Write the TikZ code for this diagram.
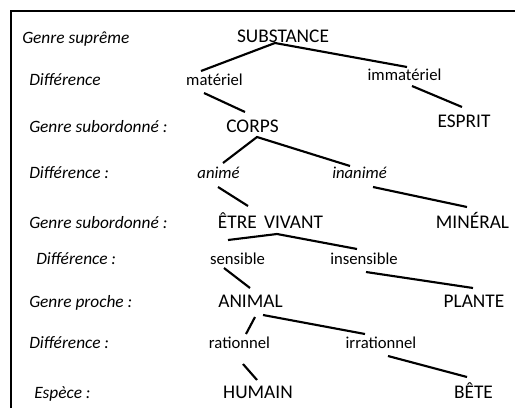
\documentclass[tikz,border=0pt]{standalone}
\usepackage{fontspec}
\setmainfont{Carlito}
\usetikzlibrary{calc}
\begin{document}
\begin{tikzpicture}[x=0.75pt,y=-0.75pt,
  lab/.style={anchor=base west,inner sep=0pt,font=\fontsize{13}{15}\selectfont\itshape},
  capt/.style={anchor=base,inner sep=0pt,font=\fontsize{14.5}{16}\selectfont},
  dif/.style={anchor=base,inner sep=0pt,font=\fontsize{12.5}{14}\selectfont},
  difit/.style={anchor=base,inner sep=0pt,font=\fontsize{12.5}{14}\selectfont\itshape},
  link/.style={line width=1.6pt},
  framel/.style={line width=1.9pt}]
\useasboundingbox (0,0) rectangle (515,408);
\draw[framel] (11,408) -- (11,11) -- (515,11);

% left labels
\node[lab] (l1) at (22,43) {Genre suprême};
\node[lab] (l2) at (29,85) {Différence};
\node[lab] (l3) at (29,132) {Genre subordonné :};
\node[lab] (l4) at (29,178) {Différence :};
\node[lab] (l5) at (29,228) {Genre subordonné :};
\node[lab] (l6) at (36,264) {Différence :};
\node[lab] (l7) at (29,307) {Genre proche :};
\node[lab] (l8) at (29,348) {Différence :};
\node[lab] (l9) at (34,398) {Espèce :};

% tree nodes
\node[capt] (sub) at (283,42) {SUBSTANCE};
\node[dif] (mat) at (214.5,85) {matériel};
\node[dif] (imm) at (404.5,80) {immatériel};
\node[capt] (corps) at (252.5,132) {CORPS};
\node[capt] (esprit) at (464,127) {ESPRIT};
\node[difit] (anime) at (218.5,178) {animé};
\node[difit] (inan) at (359.5,178) {inanimé};
\node[capt] (etre) at (270.5,228) {ÊTRE\hspace{5.5pt}VIVANT};
\node[capt] (min) at (472.5,228) {MINÉRAL};
\node[dif] (sens) at (237.5,264) {sensible};
\node[dif] (insens) at (364,264) {insensible};
\node[capt] (animal) at (250.5,307) {ANIMAL};
\node[capt] (plante) at (474,307) {PLANTE};
\node[dif] (rat) at (239.5,348) {rationnel};
\node[dif] (irrat) at (381,348) {irrationnel};
\node[capt] (hum) at (258,398) {HUMAIN};
\node[capt] (bete) at (473.5,398) {BÊTE};

% connectors
\draw[link] ($(mat.base)+(-13.5,-14)$) -- ($(sub.base)+(-8,1)$) -- ($(imm.base)+(2.5,-13)$);
\draw[link] ($(mat.base)+(-10.5,8)$) -- ($(corps.base)+(-7.5,-20)$);
\draw[link] ($(imm.base)+(7.5,6)$) -- ($(esprit.base)+(-2,-20)$);
\draw[link] ($(anime.base)+(4.5,-15)$) -- ($(corps.base)+(4.5,5)$) -- ($(inan.base)+(-9.5,-12)$);
\draw[link] ($(anime.base)+(-0.5,9)$) -- ($(etre.base)+(-22.5,-22)$);
\draw[link] ($(inan.base)+(13.5,9)$) -- ($(min.base)+(-5.5,-21)$);
\draw[link] ($(sens.base)+(-9.5,-24)$) -- ($(etre.base)+(6.5,6)$) -- ($(insens.base)+(-7,-15)$);
\draw[link] ($(sens.base)+(-13.5,4)$) -- ($(animal.base)+(-0.5,-19)$);
\draw[link] ($(insens.base)+(2,8)$) -- ($(plante.base)+(-1,-19)$);
\draw[link] ($(rat.base)+(6.5,-14)$) -- ($(animal.base)+(4.5,10)$);
\draw[link] ($(animal.base)+(12.5,8)$) -- ($(irrat.base)+(-16,-14)$);
\draw[link] ($(rat.base)+(3.5,16)$) -- ($(hum.base)+(-1,-18)$);
\draw[link] ($(irrat.base)+(7,8)$) -- ($(bete.base)+(-6.5,-21)$);
\end{tikzpicture}
\end{document}
